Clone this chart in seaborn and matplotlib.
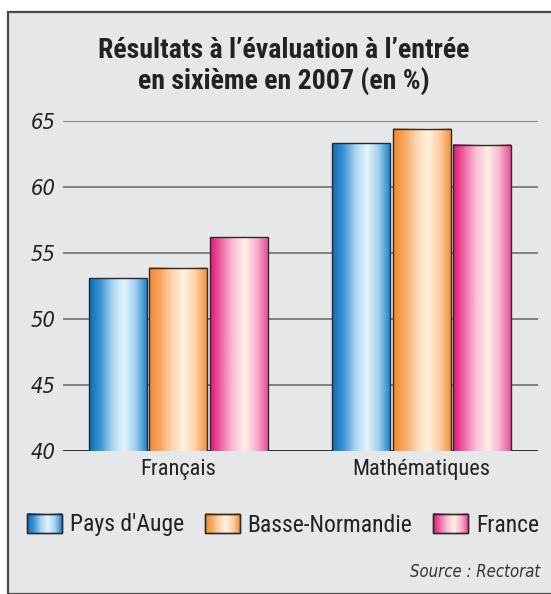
import numpy as np
import pandas as pd
import matplotlib
matplotlib.use("Agg")
import matplotlib.pyplot as plt
import seaborn as sns
from matplotlib import font_manager as fm
from matplotlib.colors import LinearSegmentedColormap
from matplotlib.patches import Rectangle
from matplotlib.image import BboxImage
from matplotlib.transforms import Bbox

# ---- data ----
subjects = ["Français", "Mathématiques"]
regions = ["Pays d'Auge", "Basse-Normandie", "France"]
pays_auge = [53.1, 63.3]
basse_normandie = [53.9, 64.4]
france = [56.2, 63.2]
yticks = [40, 45, 50, 55, 60, 65]
title = "Résultats à l’évaluation à l’entrée\nen sixième en 2007 (en %)"
source = "Source : Rectorat"

df = pd.DataFrame({
    "subject": subjects * 3,
    "region": [regions[0]] * 2 + [regions[1]] * 2 + [regions[2]] * 2,
    "value": pays_auge + basse_normandie + france,
})

grad = {
    "Pays d'Auge": ["#0a6db8", "#3b95d4", "#a9d3ef", "#e2f5fd", "#a6d0ee", "#1d87cc"],
    "Basse-Normandie": ["#f28a2c", "#f7a860", "#fdd5ae", "#fff1e3", "#fcd0a6", "#f5913a"],
    "France": ["#e1147c", "#ef6aa6", "#f9bfd6", "#fff0e6", "#f7b5cf", "#ea4e97"],
}
edge_colors = {k: v[0] for k, v in grad.items()}

# ---- fonts: prefer a condensed sans ----
FAM, STRETCH = "Liberation Sans", "normal"
entries = fm.fontManager.ttflist
names = {(f.name, f.stretch) for f in entries}
for fam, st in [("Liberation Sans Narrow", None), ("Roboto Condensed", None),
                ("Open Sans Condensed", None), ("DejaVu Sans", "condensed"),
                ("Open Sans", "condensed"), ("Roboto", "condensed")]:
    hit = [n for n in names if n[0] == fam and (st is None or n[1] in ("condensed", "semi-condensed"))]
    if hit:
        FAM = fam
        STRETCH = hit[0][1] if st else "normal"
        break

def italic_file():
    for f in entries:
        if f.fname.endswith("DejaVuSansCondensed-Oblique.ttf"):
            return f.fname
    for cand in ["Liberation Sans", "DejaVu Sans"]:
        its = [f for f in entries if f.name == cand and f.style in ("italic", "oblique")
               and (f.weight in (400, "normal", "regular"))]
        if its:
            return its[0].fname
    return None

IFILE = italic_file()

def FP(size, weight="normal", style="normal"):
    if style == "italic":
        if IFILE:
            return fm.FontProperties(fname=IFILE, size=size)
        return fm.FontProperties(family="DejaVu Sans", style="oblique", size=size)
    return fm.FontProperties(family=[FAM, "DejaVu Sans"], stretch=STRETCH,
                             size=size, weight=weight, style=style)

sns.set_theme(style="white")
plt.rcParams["font.family"] = [FAM, "DejaVu Sans"]

BG = "#e6e7e9"
W, H = 551, 594
fig = plt.figure(figsize=(W / 100, H / 100), dpi=100)
fig.patch.set_facecolor("white")
renderer = fig.canvas.get_renderer()

def fit(txt, target_px):
    w = txt.get_window_extent(renderer).width
    if w > 0:
        txt.set_fontsize(txt.get_fontsize() * target_px / w)
    return txt.get_fontsize()

def fit_size(text, fp, target_px):
    t = fig.text(0, 0, text, fontproperties=fp)
    s = fit(t, target_px)
    t.remove()
    return s

panel = Rectangle((8 / W, 0), 1.0, 1 - 11.5 / H, transform=fig.transFigure,
                  facecolor=BG, edgecolor="#4a4a4a", linewidth=1.6, zorder=-10)
fig.add_artist(panel)

ax = fig.add_axes([63 / W, 1 - 451 / H, (538 - 63) / W, (451 - 121) / H])
ax.set_facecolor("none")

sns.barplot(data=df, x="subject", y="value", hue="region", order=subjects,
            hue_order=regions, palette=edge_colors, width=0.745, gap=0.04,
            edgecolor="#2b2b2b", linewidth=1.0, legend=False, ax=ax, zorder=2)

YMIN, YMAX = 40, 65
ax.set_ylim(YMIN, YMAX)
ax.set_xlim(-0.475, 1.479)

ys = fit_size("65", FP(19, style="italic"), 25)
xs = fit_size(subjects[1], FP(17.5), 137)
ax.set_yticks(yticks, labels=[str(t) for t in yticks],
              fontproperties=FP(ys, style="italic"), color="#222222")
ax.set_xticks(range(len(subjects)), labels=subjects,
              fontproperties=FP(xs), color="#222222")
ax.tick_params(axis="y", length=0, pad=5)
ax.tick_params(axis="x", length=0, pad=6)
ax.set_xlabel("")
ax.set_ylabel("")
for s in ax.spines.values():
    s.set_visible(False)
ax.set_axisbelow(True)
ax.yaxis.grid(True, color="#7a7a7a", linewidth=1.3)
ax.axhline(YMIN, color="#333333", linewidth=1.4, zorder=1.5)

def gradient_img(colors):
    cmap = LinearSegmentedColormap.from_list("g", colors)
    return cmap(np.linspace(0, 1, 256))[None, :, :]

bars = [p for p in ax.patches if p.get_height() > 0]
order_cols = [reg for reg in regions for _ in subjects]
for p, reg in zip(bars, order_cols):
    x0, y0 = p.get_x(), p.get_y()
    w, hgt = p.get_width(), p.get_height()
    ax.imshow(gradient_img(grad[reg]),
              extent=[x0, x0 + w, max(y0, YMIN), y0 + hgt],
              aspect="auto", zorder=1.8, interpolation="bilinear")
    p.set_facecolor("none")
ax.set_xlim(-0.475, 1.479)
ax.set_ylim(YMIN, YMAX)

# title
ts = fit_size(title.split("\n")[0], FP(19, weight="bold"), 372)
fig.text(284 / W, 1 - 50 / H, title.split("\n")[0], ha="center", va="center",
         fontproperties=FP(ts, weight="bold"), color="#222222")
fig.text(284 / W, 1 - 81 / H, title.split("\n")[1], ha="center", va="center",
         fontproperties=FP(ts, weight="bold"), color="#222222")

# source
ss = fit_size(source, FP(13, style="italic"), 130)
fig.text(540 / W, 1 - 572 / H, source, ha="right", va="center",
         fontproperties=FP(ss, style="italic"), color="#333333")

# legend
fs = fit_size(regions[0], FP(17.5), 114)
handles = [Rectangle((0, 0), 1, 1, facecolor="none", edgecolor="#2b2b2b", linewidth=1.0)
           for _ in regions]
leg = fig.legend(handles, regions, loc="center", bbox_to_anchor=(283 / W, 1 - 525 / H),
                 ncol=3, frameon=False, prop=FP(fs), handlelength=25.2 / fs,
                 handleheight=15.1 / fs, handletextpad=5.8 / fs, columnspacing=15 / fs,
                 borderaxespad=0, borderpad=0)
for t in leg.get_texts():
    t.set_color("#222222")

fig.canvas.draw()
for hdl, reg in zip(leg.legend_handles, regions):
    bb = hdl.get_window_extent(renderer)
    bbox = Bbox.from_extents(bb.x0, bb.y0, bb.x1, bb.y1)
    bim = BboxImage(bbox, interpolation="bilinear", zorder=5)
    bim.set_data(gradient_img(grad[reg]))
    fig.add_artist(bim)
    fr = Rectangle((bb.x0, bb.y0), bb.width, bb.height, transform=None,
                   facecolor="none", edgecolor="#2b2b2b", linewidth=1.0, zorder=6)
    fig.add_artist(fr)

fig.savefig("out.png", dpi=100, facecolor=fig.get_facecolor())
